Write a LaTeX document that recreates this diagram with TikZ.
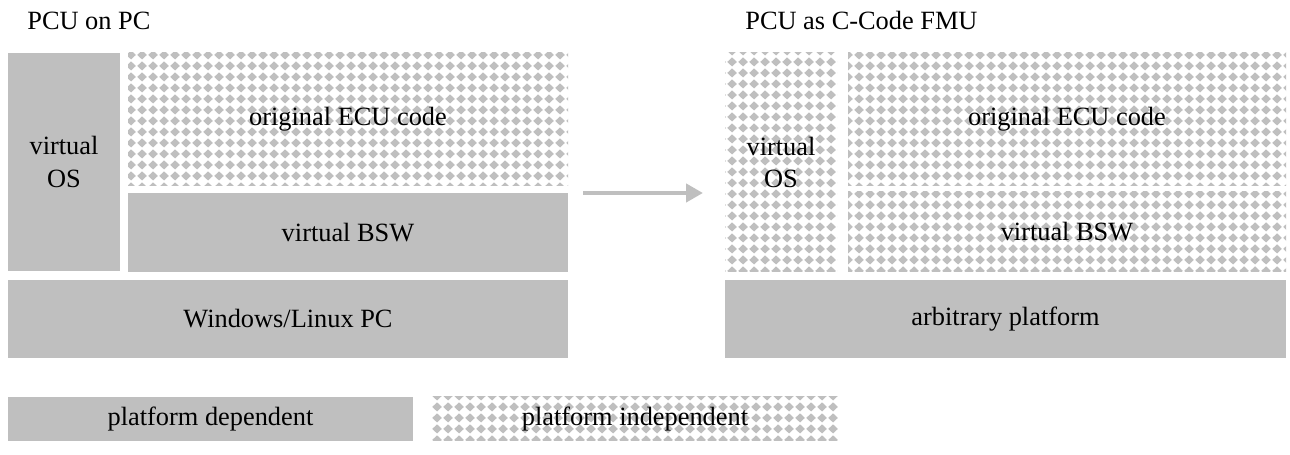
\documentclass[tikz,border=0pt]{standalone}
\usepackage{fontspec}
\setmainfont{Liberation Serif}
\usepackage{tikz}
\usetikzlibrary{positioning, arrows.meta, patterns}

\definecolor{boxgray}{HTML}{BFBFBF}

% diamond grid fill for the platform independent parts
\pgfdeclarepatternformonly{diamondgrid}{\pgfqpoint{0pt}{0pt}}{\pgfqpoint{6pt}{6pt}}{\pgfqpoint{6pt}{6pt}}{
  \pgfpathmoveto{\pgfqpoint{3pt}{0.3pt}}
  \pgfpathlineto{\pgfqpoint{5.85pt}{3pt}}
  \pgfpathlineto{\pgfqpoint{3pt}{5.7pt}}
  \pgfpathlineto{\pgfqpoint{0.15pt}{3pt}}
  \pgfpathclose
  \pgfusepath{fill}
}

\begin{document}
\begin{tikzpicture}[
      node distance=1.4mm,
      base/.style={inner sep=0pt, outer sep=0pt, align=center, font=\fontsize{15}{18.7}\selectfont},
      solidbox/.style={base, fill=boxgray},
      patbox/.style={base, pattern=diamondgrid, pattern color=boxgray},
      title/.style={inner sep=0pt, anchor=base west, font=\fontsize{15}{18}\selectfont},
      flow/.style={draw=boxgray, line width=0.09cm, -{Triangle[length=3.4mm, width=3.6mm]}}
    ]
    \useasboundingbox (0,0) rectangle (25.8,9.1);

    % PCU on PC
    \node[title] (t1) at (0.54,8.50) {PCU on PC};
    \node[solidbox, minimum width=22.4mm, minimum height=43.6mm] (vos) at (1.28,5.86) {virtual\\OS};
    \node[patbox, minimum width=88mm, minimum height=26.6mm] (ecu) at (6.96,6.71) {original ECU code};
    \node[solidbox, minimum width=88mm, minimum height=15.8mm, below=of ecu] (bsw) {virtual BSW};
    \node[solidbox, minimum width=112mm, minimum height=15.6mm] (pc) at (5.76,2.72) {Windows/Linux PC};

    % PCU as C-Code FMU
    \node[title] (t2) at (14.9,8.50) {PCU as C-Code FMU};
    \node[patbox, minimum width=22.4mm, minimum height=43.8mm] (vos2) at (15.62,5.85) {virtual\\OS};
    \node[patbox, minimum width=87.6mm, minimum height=26.6mm] (ecu2) at (21.34,6.71) {original ECU code};
    \node[patbox, minimum width=87.6mm, minimum height=16mm, below=1.2mm of ecu2] (bsw2) {virtual BSW};
    \node[solidbox, minimum width=112.2mm, minimum height=15.6mm] (arb) at (20.11,2.72) {arbitrary platform};

    \draw[flow, shorten <=3mm, shorten >=4.4mm] (bsw.north east) -- (bsw.north east -| vos2.west);

    % legend
    \node[solidbox, minimum width=81mm, minimum height=8.8mm] (dep) at (4.21,0.72) {platform dependent};
    \node[patbox, minimum width=81.2mm, minimum height=8.8mm] (indep) at (12.70,0.72) {platform independent};
  \end{tikzpicture}
\end{document}
